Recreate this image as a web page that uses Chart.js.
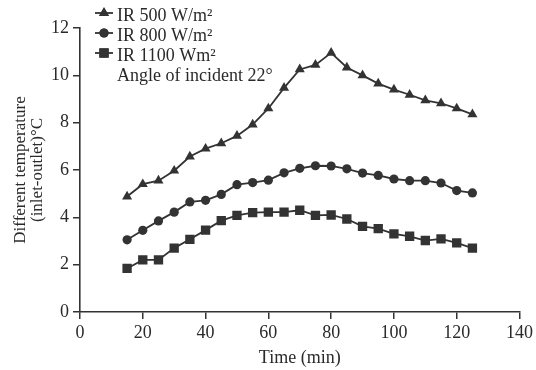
<!DOCTYPE html>
<html>
<head>
<meta charset="utf-8">
<script src="https://cdn.jsdelivr.net/npm/chart.js@4/dist/chart.umd.min.js"></script>
<style>
  html, body { margin: 0; padding: 0; background: #fff; }
  #wrap { width: 536px; height: 370px; }
</style>
</head>
<body>
<div id="wrap"><canvas id="tempChart" width="536" height="370"></canvas></div>
<script>
'use strict';

var times = [15, 20, 25, 30, 35, 40, 45, 50, 55, 60, 65, 70, 75, 80, 85, 90, 95, 100, 105, 110, 115, 120, 125];
var ir500 = [4.88, 5.4, 5.55, 5.97, 6.57, 6.9, 7.13, 7.44, 7.92, 8.6, 9.47, 10.25, 10.44, 10.95, 10.33, 10.0, 9.65, 9.4, 9.18, 8.94, 8.82, 8.6, 8.35];
var ir800 = [3.05, 3.45, 3.85, 4.22, 4.65, 4.72, 4.97, 5.38, 5.47, 5.57, 5.88, 6.07, 6.18, 6.17, 6.05, 5.87, 5.77, 5.62, 5.55, 5.55, 5.45, 5.13, 5.03];
var ir1100 = [1.84, 2.2, 2.2, 2.7, 3.07, 3.46, 3.86, 4.08, 4.2, 4.22, 4.22, 4.3, 4.08, 4.1, 3.93, 3.62, 3.52, 3.3, 3.2, 3.02, 3.09, 2.92, 2.7];
var seriesLabels = ['IR 500 W/m\u00B2', 'IR 800 W/m\u00B2', 'IR 1100 Wm\u00B2'];
var note = 'Angle of incident 22\u00B0';

var ink = '#333333';
var textInk = '#2a2a2a';
var fontFamily = '"Liberation Serif", "Times New Roman", serif';

function toPoints(values) {
  return values.map(function(v, i) {
    return { x: times[i], y: v };
  });
}

function makeSet(label, values, style, radius) {
  return {
    label: label,
    data: toPoints(values),
    borderColor: ink,
    backgroundColor: ink,
    borderWidth: 1.8,
    pointStyle: style,
    pointRadius: radius,
    pointBorderWidth: 0,
    pointBackgroundColor: ink,
    tension: 0
  };
}

// legend drawn inside the plot, top left
var innerLegend = {
  id: 'innerLegend',
  afterDraw: function(chart) {
    var ctx = chart.ctx;
    var x0 = 95, x1 = 113, textX = 117;
    var marks = [13, 33, 53];
    var baselines = [21, 41, 61];
    ctx.save();
    ctx.font = '18px ' + fontFamily;
    ctx.textBaseline = 'alphabetic';
    chart.data.datasets.forEach(function(ds, i) {
      var y = marks[i];
      ctx.strokeStyle = ink;
      ctx.lineWidth = 1.8;
      ctx.beginPath();
      ctx.moveTo(x0, y);
      ctx.lineTo(x1, y);
      ctx.stroke();
      ctx.fillStyle = ink;
      Chart.helpers.drawPoint(ctx, { pointStyle: ds.pointStyle, radius: ds.pointRadius, borderWidth: 0 }, (x0 + x1) / 2, y);
      ctx.fill();
      ctx.fillStyle = textInk;
      ctx.fillText(ds.label, textX, baselines[i]);
    });
    ctx.fillStyle = textInk;
    ctx.fillText(note, textX, 81);
    ctx.restore();
  }
};

var ctx = document.getElementById('tempChart').getContext('2d');

var chart = new Chart(ctx, {
  type: 'line',
  data: {
    datasets: [
      makeSet(seriesLabels[0], ir500, 'triangle', 5.8),
      makeSet(seriesLabels[1], ir800, 'circle', 4.6),
      makeSet(seriesLabels[2], ir1100, 'rect', 6.6)
    ]
  },
  options: {
    responsive: false,
    animation: false,
    layout: { padding: { top: 28, right: 15, left: 0, bottom: 0 } },
    plugins: {
      legend: { display: false },
      tooltip: { enabled: false }
    },
    scales: {
      x: {
        type: 'linear',
        min: 0,
        max: 140,
        ticks: { stepSize: 20, color: textInk, font: { family: fontFamily, size: 18 }, padding: 3 },
        grid: { drawOnChartArea: false, drawTicks: true, tickLength: 7, color: ink, lineWidth: 1.5 },
        border: { display: true, color: ink, width: 1.6 },
        title: { display: true, text: 'Time (min)', color: textInk, font: { family: fontFamily, size: 18 }, padding: { top: 0, bottom: 1 } },
        afterFit: function(scale) { scale.height = 58; }
      },
      y: {
        min: 0,
        max: 12,
        ticks: { stepSize: 2, color: textInk, font: { family: fontFamily, size: 18 }, padding: 4 },
        grid: { drawOnChartArea: false, drawTicks: true, tickLength: 7, color: ink, lineWidth: 1.5 },
        border: { display: true, color: ink, width: 1.6 },
        title: { display: true, text: ['Different temperature', '(inlet-outlet)\u00B0C'], color: textInk, font: { family: fontFamily, size: 17, lineHeight: 1.0 }, padding: { top: 12, bottom: 4 } },
        afterFit: function(scale) { scale.width = 80; }
      }
    }
  },
  plugins: [innerLegend]
});
</script>
</body>
</html>
